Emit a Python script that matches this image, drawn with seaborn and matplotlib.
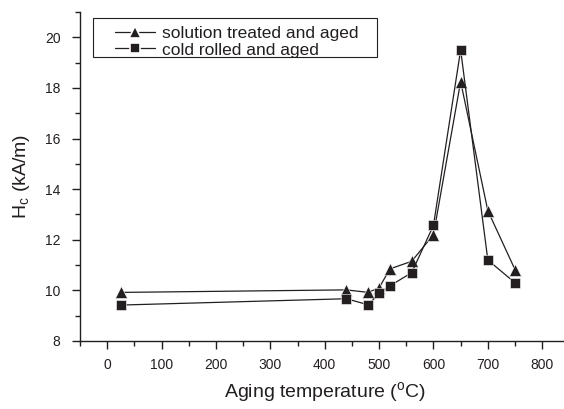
import matplotlib
matplotlib.use("Agg")
import matplotlib.pyplot as plt
import seaborn as sns
import pandas as pd
from matplotlib.ticker import MultipleLocator
from matplotlib.patches import Rectangle

temps = [25, 440, 480, 500, 520, 560, 600, 650, 700, 750]
hc_solution = [9.92, 10.02, 9.92, 10.1, 10.85, 11.15, 12.2, 18.25, 13.15, 10.82]
hc_cold = [9.42, 9.67, 9.43, 9.88, 10.18, 10.7, 12.57, 19.5, 11.2, 10.3]
series_names = ["solution treated and aged", "cold rolled and aged"]

sns.set_style("ticks")
plt.rcParams['font.family'] = ['Liberation Sans', 'DejaVu Sans']
plt.rcParams['mathtext.fontset'] = 'custom'
plt.rcParams['mathtext.rm'] = 'Liberation Sans'
plt.rcParams['mathtext.it'] = 'Liberation Sans:italic'

W, H = 564, 409
AX_L, AX_T, AX_B, AX_W = 80, 12, 341, 489.4
AX_H = AX_B - AX_T

fig = plt.figure(figsize=(5.64, 4.09), dpi=100)
ax = fig.add_axes([AX_L / W, (H - AX_B) / H, AX_W / W, AX_H / H])

col = "#231f20"
df1 = pd.DataFrame({"T": temps, "Hc": hc_solution})
df2 = pd.DataFrame({"T": temps, "Hc": hc_cold})
sns.lineplot(data=df1, x="T", y="Hc", ax=ax, color=col, marker="^", markersize=8,
             markeredgecolor="white", markeredgewidth=0.4, linewidth=0.9,
             label=series_names[0], clip_on=False)
sns.lineplot(data=df2, x="T", y="Hc", ax=ax, color=col, marker="s", markersize=7,
             markeredgecolor="white", markeredgewidth=0.4, linewidth=0.9,
             label=series_names[1], clip_on=False)

ax.set_xlim(-50, 850)
ax.set_ylim(8, 21)
ax.xaxis.set_minor_locator(MultipleLocator(50))
ax.yaxis.set_minor_locator(MultipleLocator(1))
ax.set_xticks(range(0, 801, 100))
ax.set_yticks(range(8, 21, 2))

for s in ["top", "right"]:
    ax.spines[s].set_visible(False)
for s in ["left", "bottom"]:
    ax.spines[s].set_linewidth(1.0)
    ax.spines[s].set_color(col)

ax.tick_params(axis="both", which="major", direction="out", length=6, width=1.0,
               labelsize=10, colors=col)
ax.tick_params(axis="both", which="minor", direction="out", length=3.5, width=1.0, colors=col)
ax.tick_params(axis="y", which="major", pad=8)
ax.tick_params(axis="x", which="major", pad=6)

ax.set_xlabel(r"Aging temperature ($^{\rm o}$C)", fontsize=14, color=col, labelpad=6)
ax.set_ylabel(r"H$_{\rm c}$ (kA/m)", fontsize=14, color=col, labelpad=9)

# legend (frameless) plus a manual rectangular frame
leg = ax.legend(loc="upper left",
                bbox_to_anchor=((115 - AX_L) / AX_W, 1 - (26 - AX_T) / AX_H),
                fontsize=12.5, frameon=False, handlelength=2.3, handletextpad=0.4,
                borderpad=0, labelspacing=0.07, borderaxespad=0)
for t in leg.get_texts():
    t.set_color(col)
for h in leg.legend_handles:
    h.set_markeredgewidth(1.2)

ax.add_patch(Rectangle(((93 - AX_L) / AX_W, 1 - (57 - AX_T) / AX_H),
                       (377 - 93) / AX_W, 39 / AX_H, transform=ax.transAxes,
                       fill=False, edgecolor=col, linewidth=0.8, clip_on=False))

fig.savefig("out.png", dpi=100)
